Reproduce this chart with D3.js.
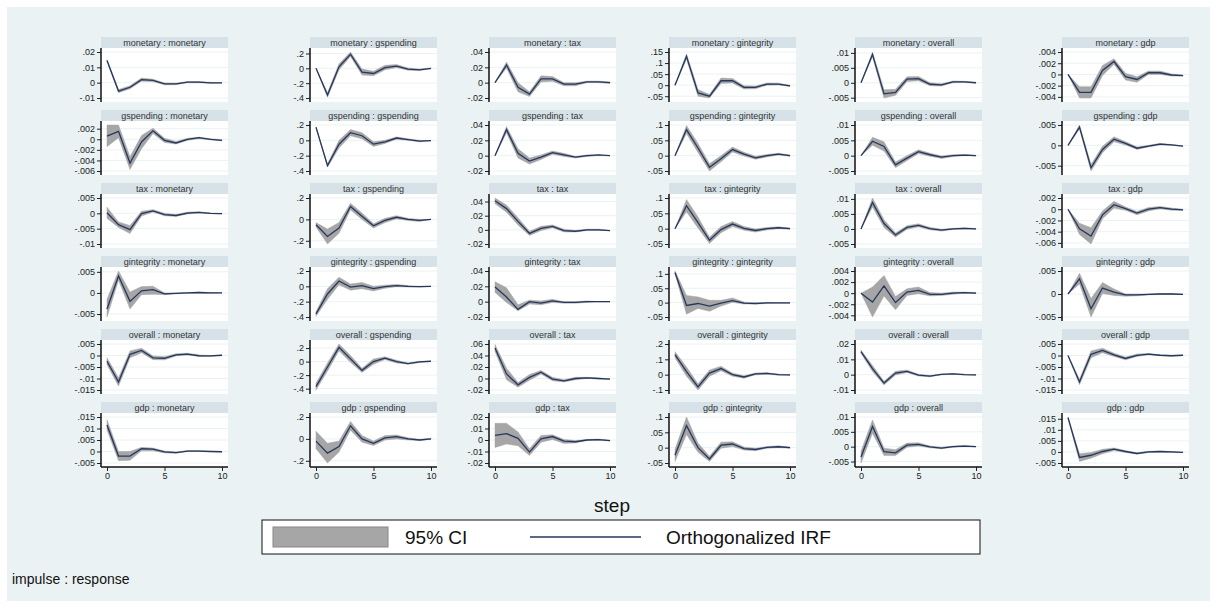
<!DOCTYPE html>
<html>
<head>
<meta charset="utf-8">
<script src="https://cdn.jsdelivr.net/npm/d3@7"></script>
<style>
  body { margin: 0; background: #fff; }
  text { font-family: "Liberation Sans", Arial, sans-serif; }
</style>
</head>
<body>
<script>
// impulse (rows) : response (columns)
const vars = ["monetary", "gspending", "tax", "gintegrity", "overall", "gdp"];
const steps = [0, 1, 2, 3, 4, 5, 6, 7, 8, 9, 10];
const xTicks = [0, 5, 10];

// y tick values per panel [impulse][response]
const yTicks = [
    [[-.01, 0, .01, .02], [-.4, -.2, 0, .2], [-.02, 0, .02, .04], [-.05, 0, .05, .1, .15], [-.005, 0, .005, .01], [-.004, -.002, 0, .002, .004]],
    [[-.006, -.004, -.002, 0, .002], [-.4, -.2, 0, .2], [-.02, 0, .02, .04], [-.05, 0, .05, .1], [-.005, 0, .005, .01], [-.005, 0, .005]],
    [[-.01, -.005, 0, .005], [-.2, 0, .2], [-.02, 0, .02, .04], [-.05, 0, .05, .1], [-.005, 0, .005, .01], [-.006, -.004, -.002, 0, .002]],
    [[-.005, 0, .005], [-.4, -.2, 0, .2], [-.02, 0, .02, .04], [-.05, 0, .05, .1], [-.004, -.002, 0, .002, .004], [-.005, 0, .005]],
    [[-.015, -.01, -.005, 0, .005], [-.4, -.2, 0, .2], [-.02, 0, .02, .04, .06], [-.1, 0, .1, .2], [-.01, 0, .01, .02], [-.015, -.01, -.005, 0, .005]],
    [[-.005, 0, .005, .01, .015], [-.2, 0, .2], [-.02, -.01, 0, .01, .02], [-.05, 0, .05, .1], [-.005, 0, .005, .01], [-.005, 0, .005, .01, .015]]
];

// orthogonalized IRF
const irf = [
    [
        [.0145, -.0055, -.003, .002, .0015, -.0008, -.0008, .0003, .0003, -.0001, -.0001],
        [0, -.36, .02, .19, -.05, -.07, .01, .03, -.01, -.02, 0],
        [0, .023, -.006, -.015, .005, .005, -.002, -.002, .001, .001, 0],
        [0, .13, -.035, -.05, .02, .02, -.01, -.01, .005, .005, -.003],
        [0, .0095, -.0037, -.0032, .0012, .0014, -.0005, -.0007, .0003, .0003, 0],
        [0, -.0032, -.0032, .0007, .0023, -.0004, -.0009, .0003, .0003, -.0001, -.0002]
    ],
    [
        [.0006, .0015, -.0045, -.0005, .0016, -.0002, -.0007, 0, .0003, 0, -.0002],
        [.17, -.33, -.05, .1, .06, -.05, -.02, .03, .01, -.01, -.005],
        [0, .034, .003, -.007, -.002, .004, .001, -.002, 0, .001, 0],
        [0, .085, .025, -.038, -.01, .02, .005, -.007, 0, .005, 0],
        [0, .0047, .003, -.003, -.0008, .0013, .0003, -.0005, 0, .0002, 0],
        [0, .0045, -.0055, -.001, .0015, .0005, -.0007, -.0002, .0003, .0001, -.0002]
    ],
    [
        [.0002, -.0037, -.0053, -.0001, .0008, -.0004, -.0007, .0001, .0003, 0, -.0001],
        [-.05, -.16, -.08, .12, .03, -.06, -.01, .02, 0, -.01, 0],
        [.041, .03, .012, -.005, .002, .005, -.001, -.002, 0, 0, -.001],
        [0, .075, .02, -.038, -.003, .015, .001, -.006, 0, .003, 0],
        [0, .0088, .0018, -.002, .0005, .0012, .0001, -.0004, 0, .0002, 0],
        [0, -.0035, -.0048, -.001, .0008, .0001, -.0007, 0, .0003, 0, -.0001]
    ],
    [
        [-.0038, .004, -.002, .0005, .0008, -.0002, -.0001, 0, .0001, 0, 0],
        [-.36, -.1, .07, -.01, .01, -.03, -.005, .01, 0, -.005, 0],
        [.019, .006, -.01, 0, -.002, .001, -.001, -.001, 0, 0, 0],
        [.105, -.01, -.003, -.012, -.002, .007, -.002, -.003, -.001, -.001, -.001],
        [0, -.0016, .0013, -.0017, .0002, .0005, -.0002, -.0002, 0, .0001, 0],
        [0, .0033, -.0032, .0013, .0004, -.0002, -.0002, -.0001, 0, 0, -.0001]
    ],
    [
        [-.0025, -.0115, .0005, .0022, -.001, -.0012, .0003, .0006, -.0001, -.0002, .0001],
        [-.37, -.08, .21, .04, -.13, 0, .05, 0, -.03, -.005, .005],
        [.053, .008, -.011, .002, .011, -.001, -.004, 0, .001, 0, -.001],
        [.13, .02, -.08, .01, .04, 0, -.015, .005, .008, 0, -.002],
        [.015, .004, -.0055, .001, .0022, -.0003, -.001, .0002, .0005, 0, -.0002],
        [0, -.0115, .0005, .0022, .0003, -.0013, .0001, .0006, .0001, -.0001, .0001]
    ],
    [
        [.0115, -.002, -.002, .0012, .001, -.0002, -.0005, .0002, .0002, 0, -.0001],
        [-.02, -.13, -.07, .12, 0, -.04, .01, .02, 0, -.01, 0],
        [.004, .0055, .0015, -.0105, .001, .003, -.001, -.0015, 0, .0003, -.0005],
        [-.025, .072, 0, -.037, .008, .012, -.003, -.006, .001, .003, 0],
        [-.0035, .0068, -.0017, -.0021, .0005, .0008, -.0001, -.0005, 0, .0002, 0],
        [.0155, -.0025, -.0015, .0002, .0013, .0002, -.0007, 0, .0002, 0, -.0002]
    ]
];

// 95% CI lower bound
const ciLo = [
    [
        [.014, -.0065, -.004, .001, .0007, -.0014, -.0013, -.0001, -.0001, -.0004, -.0002],
        [0, -.39, -.02, .16, -.09, -.1, -.02, .01, -.025, -.03, -.005],
        [0, .019, -.012, -.018, .001, .002, -.004, -.004, 0, 0, -.001],
        [0, .118, -.05, -.058, .008, .01, -.017, -.016, 0, .001, -.006],
        [0, .0087, -.0051, -.0042, .0004, .0007, -.001, -.0011, 0, .0001, -.0001],
        [0, -.0042, -.0042, -.0002, .0018, -.001, -.0014, 0, 0, -.0003, -.0003]
    ],
    [
        [-.0014, .0003, -.0057, -.0018, .0011, -.0006, -.0009, -.0002, .0001, -.0001, -.0003],
        [.17, -.35, -.1, .06, .02, -.08, -.04, .015, 0, -.02, -.005],
        [0, .03, -.003, -.011, -.005, .002, -.001, -.003, -.001, 0, 0],
        [0, .072, .01, -.05, -.02, .012, -.001, -.012, -.004, .002, -.002],
        [0, .0034, .0015, -.0039, -.0016, .0007, -.0002, -.0009, -.0003, 0, -.0001],
        [0, .004, -.0063, -.0018, .0009, .0001, -.001, -.0004, .0001, 0, -.0002]
    ],
    [
        [-.0016, -.0046, -.0066, -.0009, .0004, -.0008, -.001, -.0002, .0001, -.0001, -.0002],
        [-.07, -.23, -.13, .09, 0, -.08, -.03, .005, -.01, -.02, 0],
        [.037, .025, .007, -.008, -.001, .003, -.003, -.003, -.001, -.001, -.001],
        [0, .055, .002, -.048, -.013, .007, -.005, -.011, -.004, 0, -.002],
        [0, .0073, .0005, -.0027, -.0001, .0007, -.0003, -.0007, -.0002, 0, -.0001],
        [0, -.0045, -.0062, -.0017, .0002, -.0002, -.001, -.0003, .0001, -.0002, -.0002]
    ],
    [
        [-.0057, .003, -.0038, -.0004, -.0003, -.0004, -.0002, -.0001, 0, -.0001, 0],
        [-.39, -.17, .02, -.05, -.03, -.06, -.025, -.005, -.01, -.01, 0],
        [.012, -.001, -.012, -.003, -.004, -.001, -.002, -.002, -.001, 0, 0],
        [.1, -.04, -.02, -.03, -.012, .001, -.005, -.005, -.003, -.002, -.002],
        [0, -.0043, -.0005, -.003, -.0004, -.0001, -.0005, -.0004, -.0002, 0, -.0001],
        [0, .0022, -.005, .0001, -.0003, -.0005, -.0004, -.0002, -.0001, -.0001, -.0001]
    ],
    [
        [-.004, -.0133, -.001, .0012, -.0018, -.0019, -.0002, .0002, -.0004, -.0004, 0],
        [-.42, -.14, .16, -.01, -.16, -.04, .03, -.02, -.04, -.015, .005],
        [.047, -.002, -.015, -.003, .008, -.004, -.006, -.002, 0, -.001, -.001],
        [.11, -.01, -.1, -.01, .025, -.01, -.023, -.001, .003, -.003, -.004],
        [.014, .002, -.0067, -.0002, .0014, -.0009, -.0014, -.0001, .0003, -.0002, -.0003],
        [0, -.0127, -.001, .0012, -.0004, -.0019, -.0004, .0003, -.0001, -.0003, 0]
    ],
    [
        [.0093, -.004, -.0038, .0003, .0003, -.0006, -.0008, 0, 0, -.0001, -.0002],
        [-.09, -.22, -.12, .08, -.03, -.06, -.01, 0, -.01, -.015, -.005],
        [-.0065, -.0035, -.005, -.0135, -.002, .0005, -.003, -.0025, -.0005, -.0002, -.0008],
        [-.045, .043, -.015, -.045, -.002, .004, -.008, -.01, -.002, 0, -.002],
        [-.0055, .0045, -.003, -.003, -.0002, .0002, -.0004, -.0007, -.0002, 0, -.0001],
        [.0152, -.0043, -.0028, -.0008, .0006, -.0002, -.001, -.0003, 0, -.0002, -.0003]
    ]
];

// 95% CI upper bound
const ciHi = [
    [
        [.015, -.0045, -.002, .003, .0023, -.0002, -.0003, .0007, .0007, .0002, 0],
        [0, -.33, .06, .22, -.01, -.04, .04, .05, .005, -.01, .005],
        [0, .027, 0, -.012, .009, .008, 0, 0, .002, .002, .001],
        [0, .142, -.02, -.042, .032, .03, -.003, -.004, .01, .009, 0],
        [0, .0103, -.0023, -.0022, .002, .0021, 0, -.0003, .0006, .0005, .0001],
        [0, -.0022, -.0022, .0016, .0028, .0002, -.0004, .0006, .0006, .0001, -.0001]
    ],
    [
        [.0027, .0027, -.0033, .0007, .0021, .0002, -.0004, .0002, .0004, .0001, -.0001],
        [.17, -.31, 0, .14, .1, -.02, 0, .045, .02, 0, -.005],
        [0, .038, .009, -.003, .001, .006, .003, -.001, .001, .001, 0],
        [0, .098, .04, -.026, 0, .028, .011, -.002, .004, .008, .002],
        [0, .006, .0045, -.0021, 0, .0019, .0008, -.0001, .0003, .0004, .0001],
        [0, .005, -.0047, -.0002, .0021, .0009, -.0004, 0, .0005, .0002, -.0002]
    ],
    [
        [.002, -.0028, -.004, .0007, .0012, 0, -.0004, .0004, .0005, .0001, 0],
        [-.03, -.09, -.03, .15, .06, -.04, .01, .035, .01, 0, 0],
        [.045, .035, .017, -.002, .005, .007, .001, -.001, .001, .001, -.001],
        [0, .095, .038, -.028, .007, .023, .007, -.001, .004, .006, .002],
        [0, .0103, .0031, -.0013, .0011, .0017, .0005, -.0001, .0002, .0004, .0001],
        [0, -.0025, -.0033, -.0003, .0014, .0004, -.0004, .0003, .0005, .0002, 0]
    ],
    [
        [-.0015, .0052, .0002, .0015, .0016, 0, 0, .0001, .0002, .0001, 0],
        [-.33, -.03, .12, .03, .05, 0, .015, .025, .01, 0, 0],
        [.026, .018, -.004, .002, .001, .003, 0, 0, .001, 0, 0],
        [.11, .025, .02, .008, .008, .016, .002, -.001, .001, 0, 0],
        [0, .0011, .0032, -.0006, .0008, .0011, .0001, 0, .0002, .0002, .0001],
        [0, .0045, -.001, .0025, .0011, 0, 0, 0, .0001, .0001, 0]
    ],
    [
        [-.001, -.0097, .002, .0032, -.0002, -.0005, .0008, .001, .0002, 0, .0002],
        [-.32, -.02, .26, .09, -.1, .04, .07, .02, -.02, .005, .005],
        [.059, .018, -.007, .007, .014, .002, -.002, .002, .002, .001, -.001],
        [.15, .05, -.06, .03, .055, .01, -.007, .011, .013, .003, 0],
        [.016, .006, -.0043, .0022, .003, .0003, -.0006, .0005, .0007, .0002, -.0001],
        [0, -.0103, .002, .0032, .001, -.0007, .0006, .0009, .0003, .0001, .0002]
    ],
    [
        [.0138, 0, 0, .0018, .0015, .0002, -.0002, .0004, .0004, .0001, 0],
        [.07, -.04, -.02, .16, .03, -.02, .03, .035, .01, -.005, .005],
        [.0145, .0145, .007, -.0075, .004, .0045, .0005, -.0005, .0005, .0008, -.0002],
        [-.005, .1, .015, -.028, .018, .019, .002, -.002, .004, .006, .002],
        [-.0015, .009, -.0005, -.001, .0012, .0013, .0002, -.0002, .0002, .0004, .0001],
        [.0158, -.0008, -.0003, .0012, .0018, .0006, -.0004, .0003, .0004, .0002, -.0001]
    ]
];

// layout
const W = 1217, H = 608;
const colLeft = [101, 310, 489, 669, 855, 1062];
const plotW = 127, headH = 11, plotH = 54, rowTop = 37, rowStep = 73;
const bg = "#eaf2f3", headFill = "#d6e2e7", ciFill = "#a6a6a6", lineCol = "#26385e";

const fmt = function (d) {
    if (d === 0) return "0";
    return String(d).replace("0.", ".");
};

const svg = d3.select("body").append("svg")
    .attr("width", W)
    .attr("height", H);

svg.append("rect").attr("width", W).attr("height", H).attr("fill", "#fff");
svg.append("rect").attr("x", 7).attr("y", 7).attr("width", W - 14).attr("height", H - 14).attr("fill", bg);

vars.forEach((imp, r) => {
    vars.forEach((resp, c) => {
        const g = svg.append("g")
            .attr("transform", "translate(" + colLeft[c] + "," + (rowTop + r * rowStep) + ")");

        // header strip
        g.append("rect").attr("width", plotW).attr("height", headH).attr("fill", headFill);
        g.append("text")
            .attr("x", plotW / 2).attr("y", 8.5)
            .attr("text-anchor", "middle")
            .attr("font-size", 9)
            .attr("fill", "#333")
            .text(imp + " : " + resp);

        // plot region
        g.append("rect").attr("y", headH).attr("width", plotW).attr("height", plotH).attr("fill", "#fff");

        const lo = ciLo[r][c], hi = ciHi[r][c], ir = irf[r][c], ticks = yTicks[r][c];
        const x = d3.scaleLinear().domain([0, 10]).range([6, plotW - 6]);
        const y = d3.scaleLinear()
            .domain(d3.extent(ticks.concat(lo, hi, ir)))
            .range([headH + plotH - 4, headH + 4]);

        // grid
        g.selectAll(".grid")
            .data(ticks)
            .enter()
            .append("line")
            .attr("x1", 0).attr("x2", plotW)
            .attr("y1", d => y(d)).attr("y2", d => y(d))
            .attr("stroke", bg)
            .attr("stroke-width", 1);

        const area = d3.area()
            .x((d, i) => x(steps[i]))
            .y0((d, i) => y(lo[i]))
            .y1((d, i) => y(hi[i]));
        g.append("path").attr("d", area(steps)).attr("fill", ciFill).attr("stroke", ciFill).attr("stroke-width", 0.5);

        const line = d3.line()
            .x((d, i) => x(steps[i]))
            .y(d => y(d));
        g.append("path").attr("d", line(ir)).attr("fill", "none").attr("stroke", lineCol).attr("stroke-width", 1.3);

        // y axis
        const ax = g.append("g")
            .call(d3.axisLeft(y).tickValues(ticks).tickSize(4).tickPadding(2).tickFormat(fmt));
        ax.select(".domain").remove();
        ax.selectAll("text").attr("font-size", 9).attr("fill", "#222").style("font-family", "Liberation Sans, Arial, sans-serif");
        ax.selectAll("line").attr("stroke", "#222");
        g.append("line")
            .attr("x1", 0).attr("x2", 0)
            .attr("y1", headH).attr("y2", headH + plotH)
            .attr("stroke", "#111").attr("stroke-width", 1.5);

        // x axis on bottom row
        if (r === vars.length - 1) {
            const xa = g.append("g")
                .attr("transform", "translate(0," + (headH + plotH) + ")")
                .call(d3.axisBottom(x).tickValues(xTicks).tickSize(4).tickPadding(2));
            xa.select(".domain").remove();
            xa.selectAll("text").attr("font-size", 9).attr("fill", "#222").style("font-family", "Liberation Sans, Arial, sans-serif");
            xa.selectAll("line").attr("stroke", "#222");
            g.append("line")
                .attr("x1", 0).attr("x2", plotW)
                .attr("y1", headH + plotH).attr("y2", headH + plotH)
                .attr("stroke", "#111").attr("stroke-width", 1.5);
        }
    });
});

// x title
svg.append("text")
    .attr("x", 612).attr("y", 512)
    .attr("text-anchor", "middle")
    .attr("font-size", 19)
    .attr("fill", "#111")
    .text("step");

// legend
const leg = svg.append("g").attr("transform", "translate(262,520)");
leg.append("rect").attr("width", 718).attr("height", 34).attr("fill", "#fff").attr("stroke", "#111").attr("stroke-width", 1);
leg.append("rect").attr("x", 11).attr("y", 7).attr("width", 115).attr("height", 20)
    .attr("fill", ciFill).attr("stroke", "#888").attr("stroke-width", 1);
leg.append("text").attr("x", 143).attr("y", 24).attr("font-size", 19).attr("fill", "#111").text("95% CI");
leg.append("line").attr("x1", 268).attr("x2", 379).attr("y1", 17).attr("y2", 17)
    .attr("stroke", lineCol).attr("stroke-width", 1.5);
leg.append("text").attr("x", 404).attr("y", 24).attr("font-size", 19).attr("fill", "#111").text("Orthogonalized IRF");

svg.append("text")
    .attr("x", 12).attr("y", 584)
    .attr("font-size", 14)
    .attr("fill", "#111")
    .text("impulse : response");
</script>
</body>
</html>
